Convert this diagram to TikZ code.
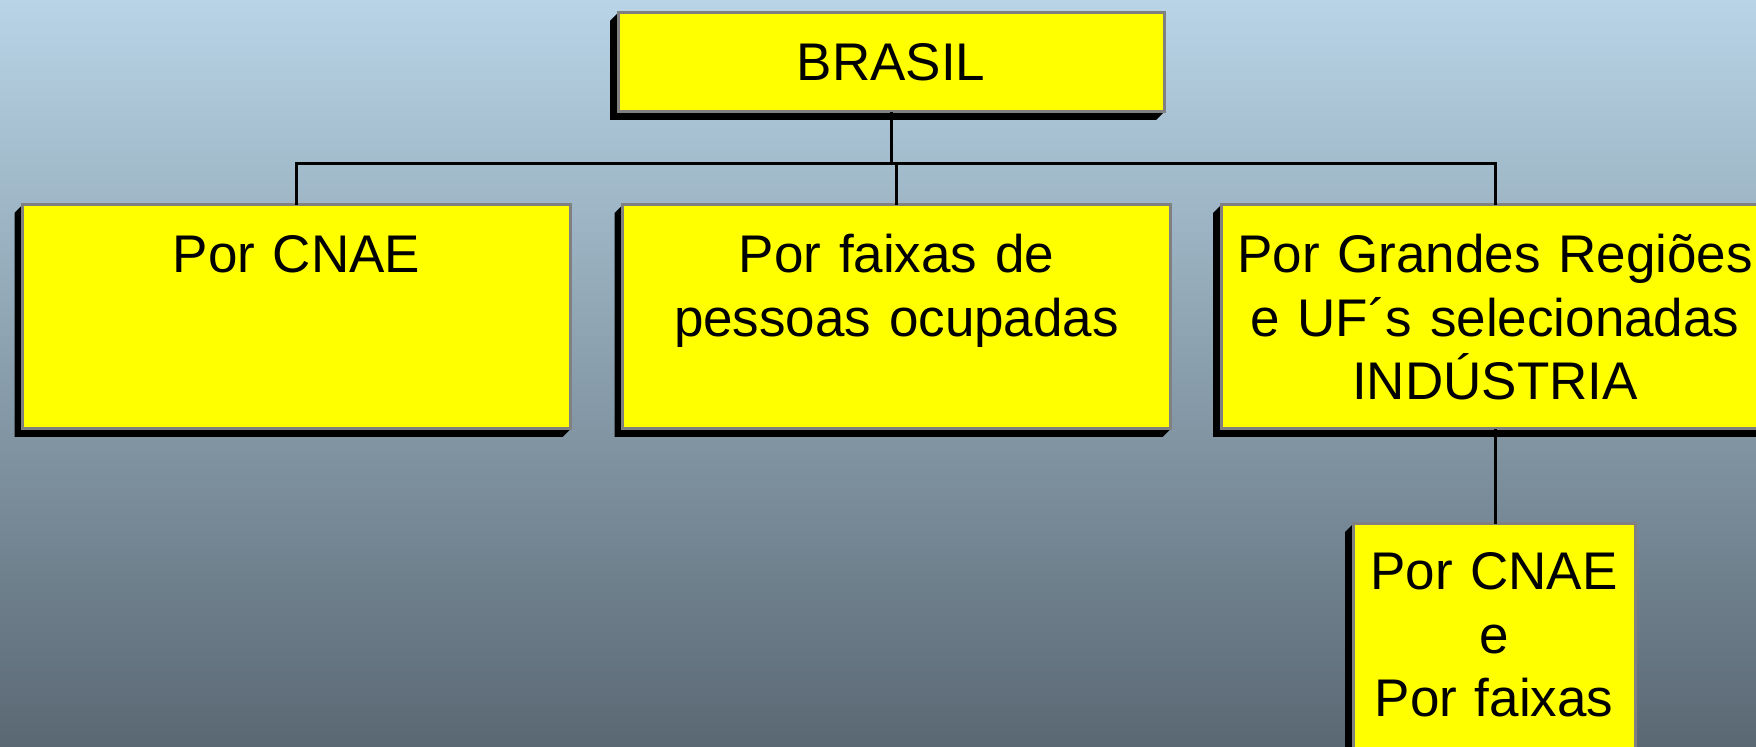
\documentclass[tikz,border=0pt]{standalone}
\usepackage{fontspec}
\setmainfont{Liberation Sans}
\usetikzlibrary{positioning, calc, backgrounds}
\definecolor{ibgeyellow}{HTML}{FFFF00}
\definecolor{ibgegray}{HTML}{808080}
\definecolor{ibgetop}{RGB}{184,212,230}
\definecolor{ibgebot}{RGB}{90,104,115}

\begin{document}
\begin{tikzpicture}[
  x=0.5pt, y=-0.5pt,
  every node/.style={font=\fontsize{26.5}{31.7}\selectfont},
  rootbox/.style={rectangle, draw=ibgegray, fill=ibgeyellow, line width=1.5pt, outer sep=0pt, minimum width=273pt, minimum height=49.5pt},
  ramobox/.style={rectangle, draw=ibgegray, fill=ibgeyellow, line width=1.5pt, outer sep=0pt, inner xsep=0pt, inner ysep=0pt, text width=274pt, align=center, text height=34pt, text depth=78pt},
  subbox/.style={rectangle, draw=ibgegray, fill=ibgeyellow, line width=1.5pt, outer sep=0pt, inner xsep=0pt, inner ysep=0pt, text width=141pt, align=center, text height=33pt, text depth=92pt},
  link/.style={black, line width=1.5pt},
]

\useasboundingbox (0,0) rectangle (1756,747);
\clip (0,0) rectangle (1756,747);

% Background
\begin{scope}[on background layer]
\shade[top color=ibgetop, bottom color=ibgebot] (0,0) rectangle (1756,747);
\end{scope}

% Top level
\node[rootbox] (brasil) at (891, 62.5) {BRASIL};

% Second level
\node[ramobox] (cnae) at (296.5, 317) {Por CNAE};
\node[ramobox] (faixas) at (896.5, 317) {Por faixas de\\pessoas ocupadas};
\node[ramobox] (regioes) at (1495, 317) {Por Grandes Regiões\\e UF´s selecionadas\\INDÚSTRIA};

% Third level
\node[subbox] (sub) at (1494, 649) {Por CNAE\\e\\Por faixas};

% Connectors
\coordinate (bus) at (891, 164);
\draw[link] (brasil.south) -- (bus);
\draw[link] (cnae.north) |- (bus) -| (regioes.north);
\draw[link] (faixas.north) -- (faixas.north |- bus);
\draw[link] (regioes.south) -- (regioes.south |- sub.north);

% Shadows
\begin{scope}[on background layer]
\foreach \n in {brasil, cnae, faixas, regioes, sub} {
  \fill[black] (\n.north west) -- ++(-8,8) |- ($(\n.south east)+(-8,8)$) -- (\n.south east) -- cycle;
}
\end{scope}

\end{tikzpicture}
\end{document}
